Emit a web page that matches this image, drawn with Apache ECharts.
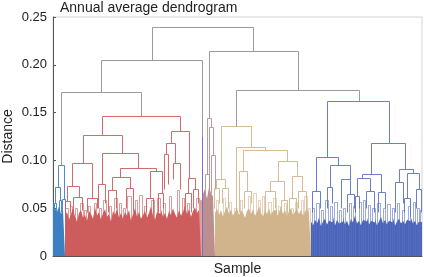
<!DOCTYPE html>
<html>
<head>
<meta charset="utf-8">
<script src="https://cdn.jsdelivr.net/npm/echarts@6/dist/echarts.min.js"></script>
<style>
  html, body { margin: 0; padding: 0; background: #fff; }
  #main { width: 424px; height: 277px; }
</style>
</head>
<body>
<div id="main"></div>
<script>
// sample axis runs 0..369 (leaf position), distance axis 0..0.25
var yTicks = [0, 0.05, 0.10, 0.15, 0.20, 0.25];

// links: [xLeft, xRight, mergeHeight, leftBottom, rightBottom]
var greyLinks = [
  [99, 200, 0.2385, 0.204, 0.2134],
  [48, 149, 0.204, 0.1715, 0.125],
  [8, 88, 0.1715, 0.095, 0.146],
  [156, 245, 0.2134, 0.144, 0.1736],
  [183, 306, 0.1736, 0.135, 0.162]
];
var purpleLeaf = [[149, 149, 0.125, 0, 0]];

var blueLeftLinks = [
  [5, 11, 0.095, 0.072, 0.059],
  [2.3, 7.3, 0.072, 0.055, 0.058],
  [9.5, 12, 0.059, 0.04, 0.045],
  [1, 3.5, 0.055, 0.035, 0.04],
  [6, 8.5, 0.058, 0.04, 0.045]
];
var redLinks = [
  [49.85, 127.5, 0.146, 0.126, 0.130],
  [30.7, 69, 0.126, 0.097, 0.107],
  [19.7, 39.7, 0.097, 0.073, 0.06],
  [14, 26.3, 0.073, 0.057, 0.061],
  [12.3, 17.3, 0.057, 0.04, 0.045],
  [20.7, 29, 0.061, 0.045, 0.048],
  [34, 44, 0.06, 0.045, 0.05],
  [49, 85.3, 0.107, 0.075, 0.092],
  [45, 52.3, 0.075, 0.05, 0.055],
  [67.3, 103.7, 0.092, 0.082, 0.088],
  [59, 77.3, 0.082, 0.069, 0.071],
  [55, 63, 0.069, 0.045, 0.05],
  [73, 80, 0.071, 0.05, 0.045],
  [97, 109, 0.088, 0.06, 0.065],
  [93, 100, 0.06, 0.045, 0.04],
  [105, 110, 0.065, 0.045, 0.05],
  [118.7, 136.3, 0.130, 0.118, 0.081],
  [113, 122, 0.118, 0.106, 0.097],
  [111, 115, 0.106, 0.07, 0.075],
  [120, 127, 0.097, 0.08, 0.07],
  [135, 142, 0.081, 0.065, 0.07],
  [132, 138, 0.065, 0.05, 0.045],
  [140, 145, 0.07, 0.05, 0.055]
];
var mauveLinks = [
  [154, 158, 0.144, 0.085, 0.134],
  [156, 160, 0.134, 0.072, 0.105],
  [152, 156, 0.085, 0.06, 0.065],
  [158, 162, 0.105, 0.065, 0.07],
  [150.5, 153, 0.06, 0.045, 0.05]
];
var tanLinks = [
  [168.7, 198.7, 0.135, 0.0805, 0.114],
  [163.7, 172, 0.0805, 0.071, 0.071],
  [161, 166.5, 0.071, 0.05, 0.055],
  [169, 175, 0.071, 0.055, 0.05],
  [183.7, 212.3, 0.114, 0.04, 0.110],
  [190.3, 234.3, 0.110, 0.088, 0.0987],
  [186, 194.5, 0.088, 0.045, 0.067],
  [191, 198, 0.067, 0.05, 0.055],
  [225.3, 244.3, 0.0987, 0.078, 0.083],
  [217, 231, 0.078, 0.067, 0.058],
  [212, 222, 0.067, 0.045, 0.05],
  [228, 234, 0.058, 0.045, 0.04],
  [239.5, 249.5, 0.083, 0.06, 0.067],
  [236, 243, 0.06, 0.045, 0.04],
  [245.3, 253.7, 0.067, 0.05, 0.045]
];
var blueLinks = [
  [274.3, 336.3, 0.162, 0.103, 0.118],
  [263, 285.3, 0.103, 0.067, 0.0945],
  [259.3, 267, 0.067, 0.045, 0.05],
  [277, 297.5, 0.0945, 0.0715, 0.0795],
  [274.7, 279.3, 0.0715, 0.05, 0.055],
  [288.7, 297.5, 0.0795, 0.05, 0.064],
  [294, 301, 0.064, 0.045, 0.05],
  [318.7, 352.7, 0.118, 0.0855, 0.090],
  [309.3, 328, 0.0855, 0.081, 0.066],
  [304, 317, 0.081, 0.062, 0.067],
  [302, 306, 0.062, 0.045, 0.05],
  [313, 321, 0.067, 0.05, 0.045],
  [325, 332, 0.066, 0.045, 0.05],
  [346.3, 360, 0.090, 0.077, 0.0865],
  [342.7, 350, 0.077, 0.046, 0.055],
  [354, 366, 0.0865, 0.06, 0.07],
  [351.5, 357, 0.06, 0.045, 0.04],
  [363, 368.5, 0.07, 0.05, 0.045]
];

// small low merges: [xLeft, xRight, mergeHeight]
var redLow = [[12.5,15,0.05],[17.5,19.5,0.052],[22,24,0.05],[27,30,0.055],[31,33,0.048],[35,37,0.052],
  [41,43.5,0.055],[46,48,0.05],[50.5,53.5,0.058],[56,58,0.052],[61,64,0.06],[66,68.5,0.055],[70,72,0.05],
  [74,78,0.062],[82,84,0.058],[86,89,0.063],[91,93,0.052],[98,101,0.058],[104,107,0.06],[110,112,0.055],
  [116,118,0.062],[124,126,0.068],[129,131,0.06],[134,136,0.055],[143,146,0.06],[147,148.5,0.058]];
var tanLow = [[163,165,0.058],[170,172,0.06],[176,178,0.056],[181,183,0.05],[187,189,0.058],[195,197,0.062],
  [200,203,0.065],[205,207,0.058],[209,211,0.062],[215,218,0.056],[220,223,0.06],[225,227,0.052],
  [231,233,0.055],[238,240,0.05],[242,244,0.056],[248,250,0.058],[251,254,0.062],[255,257,0.05]];
var blueLow = [[259,261,0.05],[263,266,0.055],[268,270,0.048],[272,275,0.058],[277,279,0.052],[281,284,0.056],
  [286,288,0.048],[290,292,0.05],[296,298,0.055],[300,302,0.052],[306,308,0.056],[310,312,0.058],
  [315,317,0.053],[319,322,0.05],[324,327,0.055],[330,332,0.05],[334,337,0.054],[339,341,0.05],
  [344,346,0.055],[349,351,0.048],[355,357,0.052],[360,362,0.056],[364,366,0.05],[367,369,0.048]];

// dense leaf mass at the bottom, one height per 2 leaf positions
var blueLeftFill = [0.058, 0.05, 0.046, 0.052, 0.044, 0.048];
var redFill = [0.042,0.046,0.038,0.044,0.05,0.041,0.036,0.045,0.048,0.04,
  0.043,0.037,0.047,0.044,0.039,0.051,0.042,0.046,0.038,0.045,
  0.049,0.041,0.044,0.036,0.047,0.043,0.05,0.04,0.045,0.039,
  0.046,0.042,0.048,0.037,0.044,0.05,0.041,0.046,0.039,0.043,
  0.047,0.04,0.045,0.052,0.042,0.038,0.046,0.044,0.049,0.041,
  0.045,0.039,0.047,0.043,0.05,0.044,0.04,0.048,0.042,0.046,
  0.053,0.044,0.049,0.041,0.047,0.051,0.045,0.048];
var mauveFill = [0.065, 0.07, 0.06, 0.072, 0.066, 0.062];
var tanFill = [0.045,0.05,0.043,0.048,0.041,0.047,0.052,0.044,0.049,0.042,
  0.046,0.051,0.043,0.048,0.045,0.04,0.047,0.05,0.044,0.049,
  0.042,0.046,0.052,0.045,0.041,0.048,0.044,0.05,0.043,0.047,
  0.049,0.042,0.046,0.051,0.044,0.048,0.041,0.047,0.05,0.043,
  0.046,0.049,0.044,0.048,0.042,0.046,0.05,0.044];
var blueFill = [0.036,0.032,0.038,0.034,0.04,0.031,0.036,0.039,0.033,0.037,
  0.035,0.041,0.032,0.038,0.034,0.036,0.04,0.033,0.037,0.031,
  0.039,0.035,0.042,0.034,0.037,0.032,0.038,0.036,0.04,0.033,
  0.037,0.035,0.039,0.032,0.036,0.041,0.034,0.038,0.033,0.037,
  0.035,0.04,0.032,0.036,0.039,0.034,0.037,0.033,0.038,0.036,
  0.04,0.034,0.037,0.032,0.036,0.035];

var colors = {
  grey: '#9b9b9b', blueLeft: '#3c80c2', red: '#cd5c5c', purple: '#7a6fcf',
  mauve: '#bc8f8f', tan: '#d2b48c', blue: '#4a64b8', blueLine: '#5a72c6'
};

// snap vertical strokes to the pixel grid so they stay crisp
function snap(p) {
  return [Math.round(p[0] - 0.5) + 0.5, Math.round(p[1] - 0.5) + 0.5];
}

function linkSeries(data, color, opacity, z) {
  return {
    type: 'custom',
    silent: true,
    clip: true,
    z: z,
    encode: { x: [0, 1], y: [2, 3, 4] },
    data: data,
    renderItem: function (params, api) {
      var xl = api.value(0), xr = api.value(1), top = api.value(2);
      var bl = api.value(3), br = api.value(4);
      return {
        type: 'polyline',
        shape: { points: [
          snap(api.coord([xl, bl])), snap(api.coord([xl, top])),
          snap(api.coord([xr, top])), snap(api.coord([xr, br]))
        ] },
        style: { stroke: color, fill: null, lineWidth: 1, opacity: opacity }
      };
    }
  };
}

function lowSeries(list, color) {
  var data = list.map(function (l) { return [l[0], l[1], l[2], 0, 0]; });
  return linkSeries(data, color, 0.6, 3);
}

// stepped area for the leaf mass
function fillSeries(start, heights, color) {
  var data = heights.map(function (h, i) { return [start + i * 2, h]; });
  data.push([start + heights.length * 2, heights[heights.length - 1]]);
  return {
    type: 'line',
    silent: true,
    z: 2,
    step: 'end',
    symbol: 'none',
    data: data,
    lineStyle: { width: 0 },
    areaStyle: { color: color, opacity: 1 }
  };
}

var chart = echarts.init(document.getElementById('main'));
var font = 'Liberation Sans, Arial, sans-serif';

chart.setOption({
  animation: false,
  title: {
    text: 'Annual average dendrogram',
    left: 60,
    top: 1,
    padding: 0,
    textStyle: { fontSize: 14, fontWeight: 'normal', color: '#222', fontFamily: font }
  },
  grid: {
    left: 53, right: 2, top: 17, bottom: 21,
    containLabel: false,
    outerBoundsMode: 'none',
    show: true, borderColor: '#d4d4d4', borderWidth: 1
  },
  xAxis: {
    type: 'value',
    min: 0, max: 369,
    name: 'Sample',
    nameLocation: 'middle',
    nameGap: 6,
    nameMoveOverlap: false,
    nameTextStyle: { fontSize: 14, color: '#222', fontFamily: font, verticalAlign: 'top' },
    axisLine: { lineStyle: { color: '#555', width: 1 } },
    axisTick: { show: false },
    axisLabel: { show: false },
    splitLine: { show: false }
  },
  yAxis: {
    type: 'value',
    min: 0, max: 0.25, interval: 0.05,
    name: 'Distance',
    nameLocation: 'middle',
    nameGap: 38,
    nameMoveOverlap: false,
    nameTextStyle: { fontSize: 14, color: '#222', fontFamily: font },
    axisLine: { show: true, lineStyle: { color: '#555', width: 1 } },
    axisTick: { show: true, inside: true, length: 3, lineStyle: { color: '#555' } },
    axisLabel: {
      fontSize: 13, color: '#222', fontFamily: font, margin: 6,
      formatter: function (v) {
        var t = yTicks.indexOf(Math.round(v * 100) / 100);
        return t === 0 ? '0' : v.toFixed(2);
      }
    },
    splitLine: { show: false }
  },
  series: [
    fillSeries(0, blueLeftFill, colors.blueLeft),
    fillSeries(12, redFill, colors.red),
    fillSeries(150, mauveFill, colors.mauve),
    fillSeries(162, tanFill, colors.tan),
    fillSeries(258, blueFill, colors.blue),
    lowSeries(redLow, colors.red),
    lowSeries(tanLow, colors.tan),
    lowSeries(blueLow, colors.blueLine),
    linkSeries(blueLeftLinks, colors.blueLeft, 0.9, 4),
    linkSeries(redLinks, colors.red, 0.9, 4),
    linkSeries(mauveLinks, colors.mauve, 0.9, 4),
    linkSeries(tanLinks, colors.tan, 0.9, 4),
    linkSeries(blueLinks, colors.blueLine, 0.9, 4),
    linkSeries(purpleLeaf, colors.purple, 1, 5),
    linkSeries(greyLinks, colors.grey, 1, 5)
  ]
});
</script>
</body>
</html>
